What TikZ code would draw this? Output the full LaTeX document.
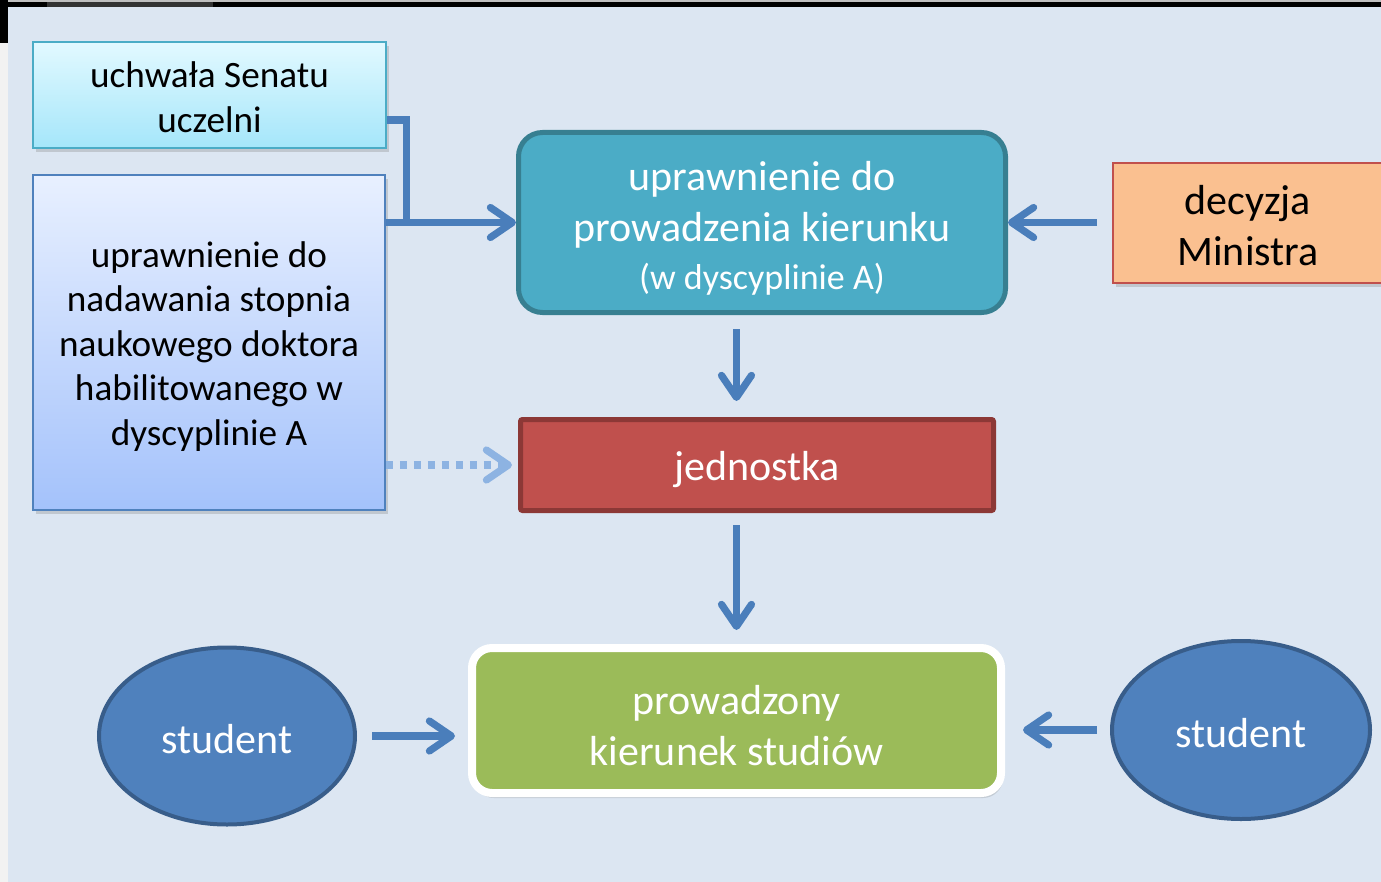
\documentclass[tikz,border=0pt]{standalone}
\usepackage{fontspec}
\setmainfont{Carlito}
\usepackage{xcolor}
\usetikzlibrary{shapes.geometric,arrows.meta,shadows,positioning}

\definecolor{slidebg}{HTML}{DCE6F2}
\definecolor{senattop}{HTML}{E2F9FF}
\definecolor{senatbottom}{HTML}{A5E6FA}
\definecolor{senatborder}{HTML}{4BACC6}
\definecolor{habiltop}{HTML}{E8F0FF}
\definecolor{habilbottom}{HTML}{A4C2FB}
\definecolor{habilborder}{HTML}{4F81BD}
\definecolor{tealfill}{HTML}{4BACC6}
\definecolor{tealborder}{HTML}{377F91}
\definecolor{ministerfill}{HTML}{FAC090}
\definecolor{ministerborder}{HTML}{C0504D}
\definecolor{unitfill}{HTML}{C0504D}
\definecolor{unitborder}{HTML}{8C3836}
\definecolor{studiesfill}{HTML}{9BBB59}
\definecolor{studentfill}{HTML}{4F81BD}
\definecolor{studentborder}{HTML}{385D8A}
\definecolor{linkcolor}{HTML}{4A7EBB}
\definecolor{hintcolor}{HTML}{8DB3E2}

% extra room above the first line, pushes the text down by half of #1
\newcommand{\downby}[1]{\rule{0pt}{\dimexpr\fontcharht\font`d+#1\relax}}

\begin{document}
\begin{tikzpicture}[x=0.5pt, y=-0.5pt]
    % Define styles
    \tikzstyle{senat} = [rectangle, draw=senatborder, line width=0.8pt, top color=senattop, bottom color=senatbottom, minimum width=176.5pt, minimum height=53pt, inner sep=0pt, align=center, font=\fontsize{18.6}{22.25}\selectfont, drop shadow={opacity=0.3, shadow xshift=1.5pt, shadow yshift=-2pt}]
    \tikzstyle{habil} = [rectangle, draw=habilborder, line width=0.8pt, top color=habiltop, bottom color=habilbottom, minimum width=176pt, minimum height=167.5pt, inner sep=0pt, align=center, font=\fontsize{18.6}{22.25}\selectfont, drop shadow={opacity=0.3, shadow xshift=1.5pt, shadow yshift=-2pt}]
    \tikzstyle{kierunek} = [rectangle, rounded corners=12pt, draw=tealborder, line width=2.5pt, fill=tealfill, text=white, minimum width=243.5pt, minimum height=90pt, inner sep=0pt, align=center, font=\fontsize{21}{25.5}\selectfont]
    \tikzstyle{minister} = [rectangle, draw=ministerborder, line width=1pt, fill=ministerfill, minimum width=135pt, minimum height=60pt, inner sep=0pt, align=center, font=\fontsize{21}{25.5}\selectfont, drop shadow={opacity=0.3, shadow xshift=1.5pt, shadow yshift=-2pt}]
    \tikzstyle{unit} = [rectangle, rounded corners=1pt, draw=unitborder, line width=2.5pt, fill=unitfill, text=white, minimum width=236.5pt, minimum height=45.5pt, inner sep=0pt, font=\fontsize{21}{25.5}\selectfont]
    \tikzstyle{studies} = [rectangle, rounded corners=10pt, draw=white, line width=4pt, fill=studiesfill, text=white, minimum width=264.5pt, minimum height=72.5pt, inner sep=0pt, align=center, font=\fontsize{21}{25.5}\selectfont, drop shadow={opacity=0.25, shadow xshift=1pt, shadow yshift=-2.5pt}]
    \tikzstyle{student} = [ellipse, draw=studentborder, line width=2pt, fill=studentfill, text=white, minimum width=128pt, minimum height=88.5pt, inner sep=0pt, font=\fontsize{21}{25.5}\selectfont]
    \tikzstyle{pipe} = [line width=3.6pt, draw=linkcolor]
    \tikzstyle{link} = [pipe, -{Straight Barb[length=11pt,width=15pt,round]}]
    \tikzstyle{hint} = [line width=3.6pt, draw=hintcolor, dash pattern=on 3.5pt off 3.5pt, -{Straight Barb[length=11pt,width=15pt,round]}]

    % Slide frame
    \useasboundingbox (0,0) rectangle (1381,882);
    \fill[black] (0,0) rectangle (1381,7);
    \fill[black!25] (0,0) rectangle (1381,2);
    \fill[black!80] (47,2) rectangle (213,7);
    \fill[black] (0,0) rectangle (8,43);
    \fill[black!5] (0,43) rectangle (8,882);
    \fill[slidebg] (8,7) rectangle (1381,882);

    % Nodes
    \node [senat] (uchwala) at (209.5,95) {\downby{2pt}uchwała Senatu\\uczelni};
    \node [habil] (nadawanie) at (209,342.5) {\downby{4pt}uprawnienie do\\nadawania stopnia\\naukowego doktora\\habilitowanego w\\dyscyplinie A};
    \node [kierunek] (uprawnienie) at (762,222.5) {\downby{6pt}uprawnienie do\\prowadzenia kierunku\\[-1.5pt]{\fontsize{18}{22}\selectfont(w dyscyplinie A)}};
    \node [minister] (decyzja) at (1248,223) {\downby{3pt}decyzja\\Ministra};
    \node [unit] (jednostka) at (757,465) {\downby{5pt}jednostka};
    \node [studies] (prowadzony) at (736.5,720.5) {\downby{5pt}prowadzony\\kierunek studiów};
    \node [student] (studentL) at (227,736) {\downby{3pt}student};
    \node [student, minimum width=129pt, minimum height=89pt] (studentR) at (1241,730) {\downby{3pt}student};

    % Arrows
    \draw [pipe] ([yshift=-12.5pt]uchwala.east) -| ([xshift=10pt]uchwala.east |- uprawnienie.west);
    \draw [link] (nadawanie.east |- uprawnienie.west) -- (uprawnienie.west);
    \draw [hint] (nadawanie.east |- jednostka.west) -- ([xshift=-3pt]jednostka.west);
    \draw [link] ([xshift=-7.5pt]decyzja.west |- uprawnienie.east) -- (uprawnienie.east);
    \draw [link] ([yshift=-7pt]uprawnienie.south -| prowadzony.north) -- ([yshift=8pt]jednostka.north -| prowadzony.north);
    \draw [link] ([yshift=-6pt]jednostka.south -| prowadzony.north) -- ([yshift=7pt]prowadzony.north);
    \draw [link] ([xshift=7.5pt]studentL.east) -- ([xshift=-6.5pt]prowadzony.west |- studentL.east);
    \draw [link] ([xshift=-6.5pt]studentR.west) -- ([xshift=9pt]prowadzony.east |- studentR.west);
\end{tikzpicture}
\end{document}
